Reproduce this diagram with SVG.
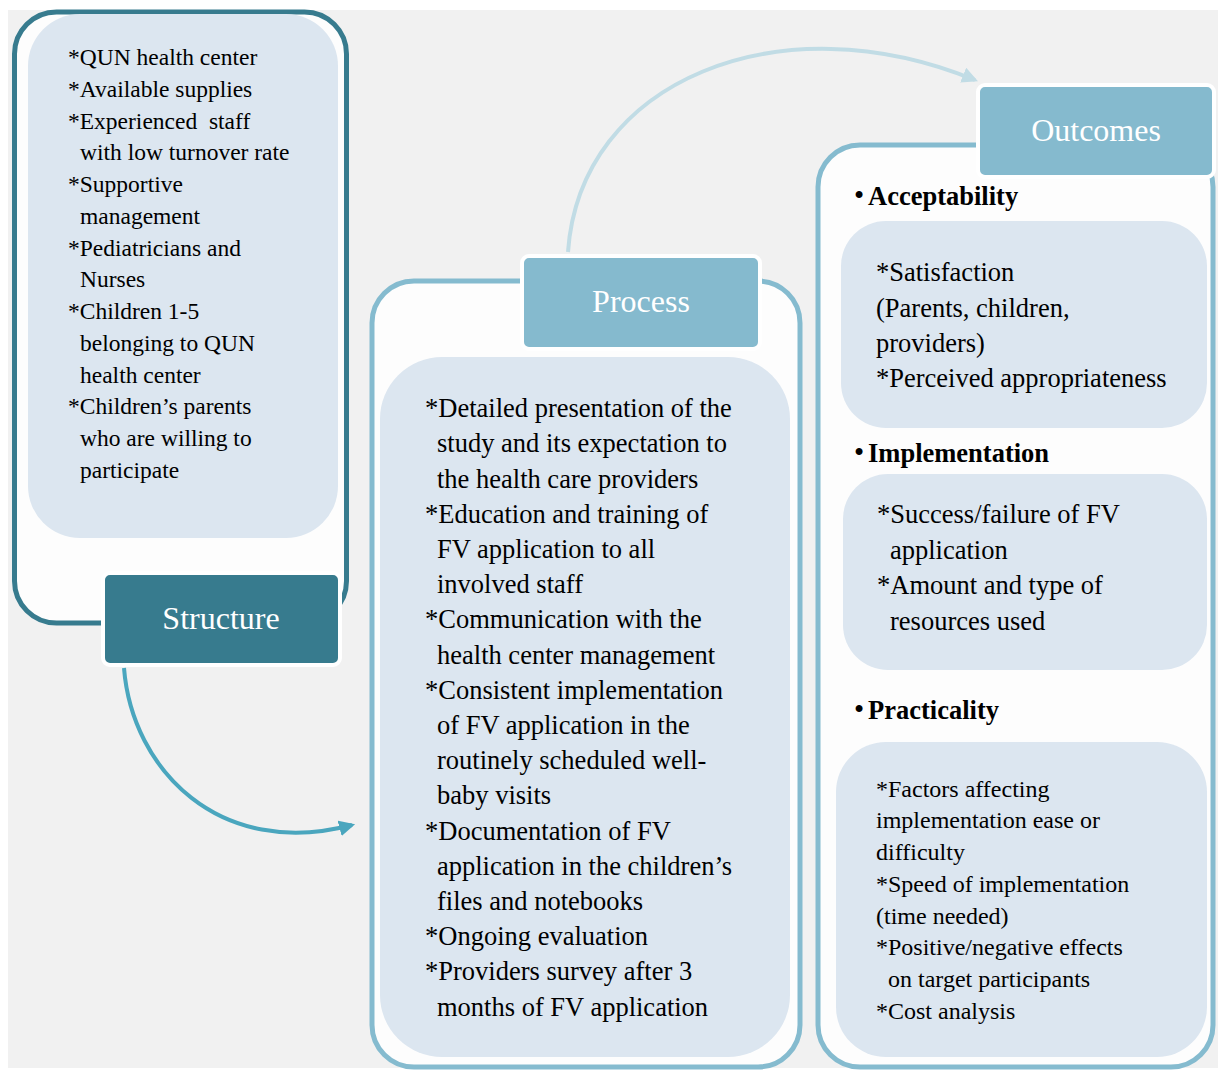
<svg xmlns="http://www.w3.org/2000/svg" width="1223" height="1071" viewBox="0 0 1223 1071">
<defs>
<style>
.t{font-family:"Liberation Serif","Times New Roman",serif;fill:#000}
.s{font-size:23.5px}
.p{font-size:26.5px}
.o{font-size:26.5px}
.q{font-size:24px}
.h{font-size:26.5px;font-weight:bold}
.b{font-size:29px}
.lbl{font-family:"Liberation Serif","Times New Roman",serif;font-size:32px;fill:#fff;text-anchor:middle}
.inner{fill:#dce6f0}
.outer{fill:#fdfdfd;stroke-width:5}
.conn{fill:none;stroke-width:4}
</style>
<marker id="ah1" viewBox="0 0 10 10" refX="8" refY="5" markerWidth="4" markerHeight="4" orient="auto" markerUnits="strokeWidth"><path d="M0,0 L10,5 L0,10 z" fill="#4aa6be"/></marker>
<marker id="ah2" viewBox="0 0 10 10" refX="8" refY="5" markerWidth="4" markerHeight="4" orient="auto" markerUnits="strokeWidth"><path d="M0,0 L10,5 L0,10 z" fill="#c1dce5"/></marker>
</defs>
<rect x="0" y="0" width="1223" height="1071" fill="#ffffff"/>
<rect x="8" y="10" width="1210" height="1058" fill="#f1f1f1"/>

<g id="connectors">
<path class="conn" stroke="#4aa6be" d="M124,668 C132,770 220,860 352,825" marker-end="url(#ah1)"/>
<path class="conn" stroke="#c1dce5" d="M568,252 C580,80 780,0 975,80" marker-end="url(#ah2)"/>
</g>

<g id="structure">
<rect class="outer" x="14.5" y="12" width="332" height="611" rx="42" stroke="#377b8e"/>
<rect class="inner" x="28" y="14" width="310" height="524" rx="52"/>
<g class="t s">
<text x="68" y="65">*QUN health center</text>
<text x="68" y="97">*Available supplies</text>
<text x="68" y="129" xml:space="preserve" style="white-space:pre">*Experienced  staff</text>
<text x="80" y="160">with low turnover rate</text>
<text x="68" y="192">*Supportive</text>
<text x="80" y="224">management</text>
<text x="68" y="256">*Pediatricians and</text>
<text x="80" y="287">Nurses</text>
<text x="68" y="319">*Children 1-5</text>
<text x="80" y="351">belonging to QUN</text>
<text x="80" y="383">health center</text>
<text x="68" y="414">*Children’s parents</text>
<text x="80" y="446">who are willing to</text>
<text x="80" y="478">participate</text>
</g>
<rect x="103" y="573" width="237" height="92" rx="7" fill="#377b8e" stroke="#ffffff" stroke-width="4"/>
<text class="lbl" x="221" y="629">Structure</text>
</g>

<g id="process">
<rect class="outer" x="372" y="281" width="428" height="786" rx="42" stroke="#85bbcf"/>
<rect class="inner" x="380" y="357" width="410" height="700" rx="62"/>
<rect x="522" y="256" width="238" height="93" rx="7" fill="#85bace" stroke="#ffffff" stroke-width="4"/>
<text class="lbl" x="641" y="312">Process</text>
<g class="t p">
<text x="425" y="417">*Detailed presentation of the</text>
<text x="437" y="452">study and its expectation to</text>
<text x="437" y="487.5">the health care providers</text>
<text x="425" y="522.5">*Education and training of</text>
<text x="437" y="558">FV application to all</text>
<text x="437" y="593">involved staff</text>
<text x="425" y="628">*Communication with the</text>
<text x="437" y="663.5">health center management</text>
<text x="425" y="698.5">*Consistent implementation</text>
<text x="437" y="734">of FV application in the</text>
<text x="437" y="769">routinely scheduled well-</text>
<text x="437" y="804">baby visits</text>
<text x="425" y="839.5">*Documentation of FV</text>
<text x="437" y="874.5">application in the children’s</text>
<text x="437" y="910">files and notebooks</text>
<text x="425" y="945">*Ongoing evaluation</text>
<text x="425" y="980">*Providers survey after 3</text>
<text x="437" y="1015.5">months of FV application</text>
</g>
</g>

<g id="outcomes">
<rect class="outer" x="818" y="145" width="395" height="922" rx="42" stroke="#85bbcf"/>
<rect x="978" y="85" width="236" height="92" rx="7" fill="#85bace" stroke="#ffffff" stroke-width="4"/>
<text class="lbl" x="1096" y="141">Outcomes</text>

<g id="acceptability">
<text class="t b" x="854" y="205">•</text>
<text class="t h" x="868" y="205">Acceptability</text>
<rect class="inner" x="841" y="221" width="366" height="207" rx="45"/>
<g class="t o">
<text x="876" y="281">*Satisfaction</text>
<text x="876" y="316.5">(Parents, children,</text>
<text x="876" y="352">providers)</text>
<text x="876" y="387">*Perceived appropriateness</text>
</g>
</g>

<g id="implementation">
<text class="t b" x="854" y="462">•</text>
<text class="t h" x="868" y="462">Implementation</text>
<rect class="inner" x="843" y="474" width="364" height="196" rx="45"/>
<g class="t o">
<text x="877" y="523">*Success/failure of FV</text>
<text x="890" y="558.5">application</text>
<text x="877" y="594">*Amount and type of</text>
<text x="890" y="629.5">resources used</text>
</g>
</g>

<g id="practicality">
<text class="t b" x="854" y="719">•</text>
<text class="t h" x="868" y="719">Practicality</text>
<rect class="inner" x="836" y="742" width="371" height="315" rx="50"/>
<g class="t q">
<text x="876" y="797">*Factors affecting</text>
<text x="876" y="828">implementation ease or</text>
<text x="876" y="860">difficulty</text>
<text x="876" y="892">*Speed of implementation</text>
<text x="876" y="924">(time needed)</text>
<text x="876" y="955">*Positive/negative effects</text>
<text x="888" y="987">on target participants</text>
<text x="876" y="1019">*Cost analysis</text>
</g>
</g>
</g>
</svg>
